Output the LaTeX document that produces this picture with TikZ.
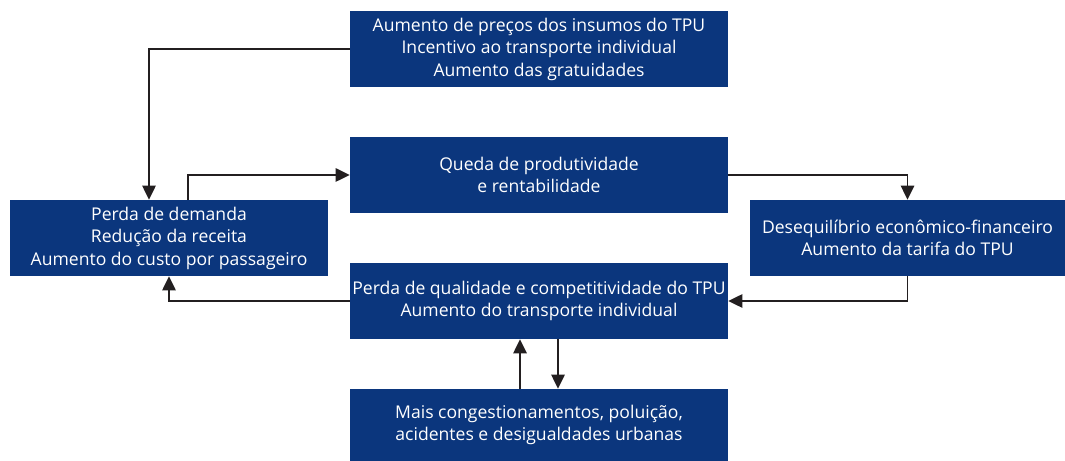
\documentclass[tikz,border=0pt]{standalone}
\usepackage{fontspec}
\setmainfont{Open Sans}
\usetikzlibrary{arrows.meta}

\definecolor{boxblue}{RGB}{11,54,125}
\definecolor{linegray}{RGB}{35,31,32}

\tikzset{
  bluebox/.style={fill=boxblue, text=white, align=center, inner sep=0pt,
    minimum height=1.9cm, font=\fontsize{12.5}{16}\selectfont},
  arr/.style={draw=linegray, line width=1.2pt, -{Triangle[width=9.5pt,length=10pt]}}
}

\begin{document}
\begin{tikzpicture}
        \useasboundingbox (0,0) rectangle (26.625,11.525);

        % Boxes
        \node [bluebox, minimum width=9.45cm] (insumos) at (13.475,10.3)
          {Aumento de preços dos insumos do TPU\\Incentivo ao transporte individual\\Aumento das gratuidades};
        \node [bluebox, minimum width=9.45cm] (queda) at (13.475,7.15)
          {Queda de produtividade\\e rentabilidade};
        \node [bluebox, minimum width=7.95cm] (demanda) at (4.225,5.575)
          {Perda de demanda\\Redução da receita\\Aumento do custo por passageiro};
        \node [bluebox, minimum width=7.875cm] (deseq) at (22.6875,5.575)
          {Desequilíbrio econômico-financeiro\\Aumento da tarifa do TPU};
        \node [bluebox, minimum width=9.45cm] (qualidade) at (13.475,4.0)
          {Perda de qualidade e competitividade do TPU\\Aumento do transporte individual};
        \node [bluebox, minimum width=9.45cm, minimum height=1.8cm] (mais) at (13.475,0.9)
          {Mais congestionamentos, poluição,\\acidentes e desigualdades urbanas};

        % Cycle
        \draw [arr] (insumos.west) -| ([xshift=-0.5cm]demanda.north);
        \draw [arr] ([xshift=0.475cm]demanda.north) |- (queda.west);
        \draw [arr] (queda.east) -| (deseq.north);
        \draw [arr] (deseq.south) |- (qualidade.east);
        \draw [arr] (qualidade.west) -| (demanda.south);

        % Externalities
        \draw [arr] ([xshift=-0.475cm]mais.north) -- ([xshift=-0.475cm]qualidade.south);
        \draw [arr] ([xshift=0.475cm]qualidade.south) -- ([xshift=0.475cm]mais.north);
    \end{tikzpicture}
\end{document}
